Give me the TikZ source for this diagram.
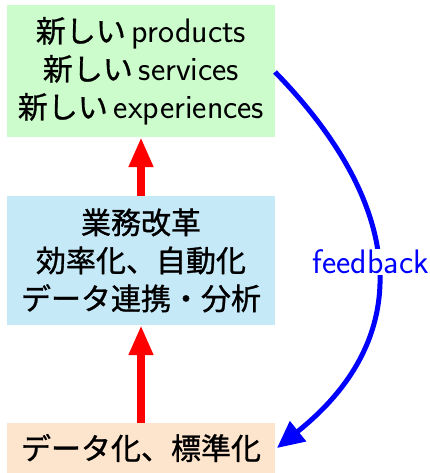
\documentclass[tikz,border=0pt]{standalone}
\usepackage{fontspec}
\newfontfamily\jpfont[FakeBold=1]{Noto Sans CJK JP}
\newcommand{\jp}{\jpfont\fontsize{30}{38}\selectfont}
\usetikzlibrary{arrows.meta}
\definecolor{boxgreen}{RGB}{204,252,204}
\definecolor{boxblue}{RGB}{198,233,248}
\definecolor{boxorange}{RGB}{253,228,204}
\begin{document}
\begin{tikzpicture}[x=1pt,y=1pt,
  stagebox/.style={inner sep=0pt, minimum width=268pt, align=center,
    font=\sffamily\fontsize{34}{38}\selectfont},
  uparrow/.style={draw=red, line width=8pt, -{Triangle[width=23pt,length=30pt]}},
  fbarrow/.style={draw=blue, line width=5pt, -{Triangle[width=25pt,length=27pt]}}]
\useasboundingbox (0,0) rectangle (430,473);
\node[stagebox, fill=boxgreen, minimum height=132pt] (top) at (141,402)
  {{\jp 新しい}\hspace{6pt}products\\{\jp 新しい}\hspace{6pt}services\\{\jp 新しい}\hspace{6pt}experiences};
\node[stagebox, fill=boxblue, minimum height=129pt] (mid) at (141,212.5)
  {{\jp 業務改革}\\{\jp 効率化、自動化}\\{\jp データ連携・分析}};
\node[stagebox, fill=boxorange, minimum height=50pt] (bot) at (141,25)
  {{\jp データ化、標準化}};
\draw[uparrow] (bot.north) -- (mid.south);
\draw[uparrow] (mid.north) -- (top.south);
\coordinate (fbs) at (275,401);
\coordinate (fbe) at (277,25);
\draw[fbarrow] (fbs) .. controls (400,273) and (421,140) .. (fbe)
  node[pos=0.5, xshift=-6pt, yshift=3pt, fill=white, text=blue, inner sep=1pt, font=\sffamily\fontsize{34}{38}\selectfont] (fb) {feedback};
\end{tikzpicture}
\end{document}
